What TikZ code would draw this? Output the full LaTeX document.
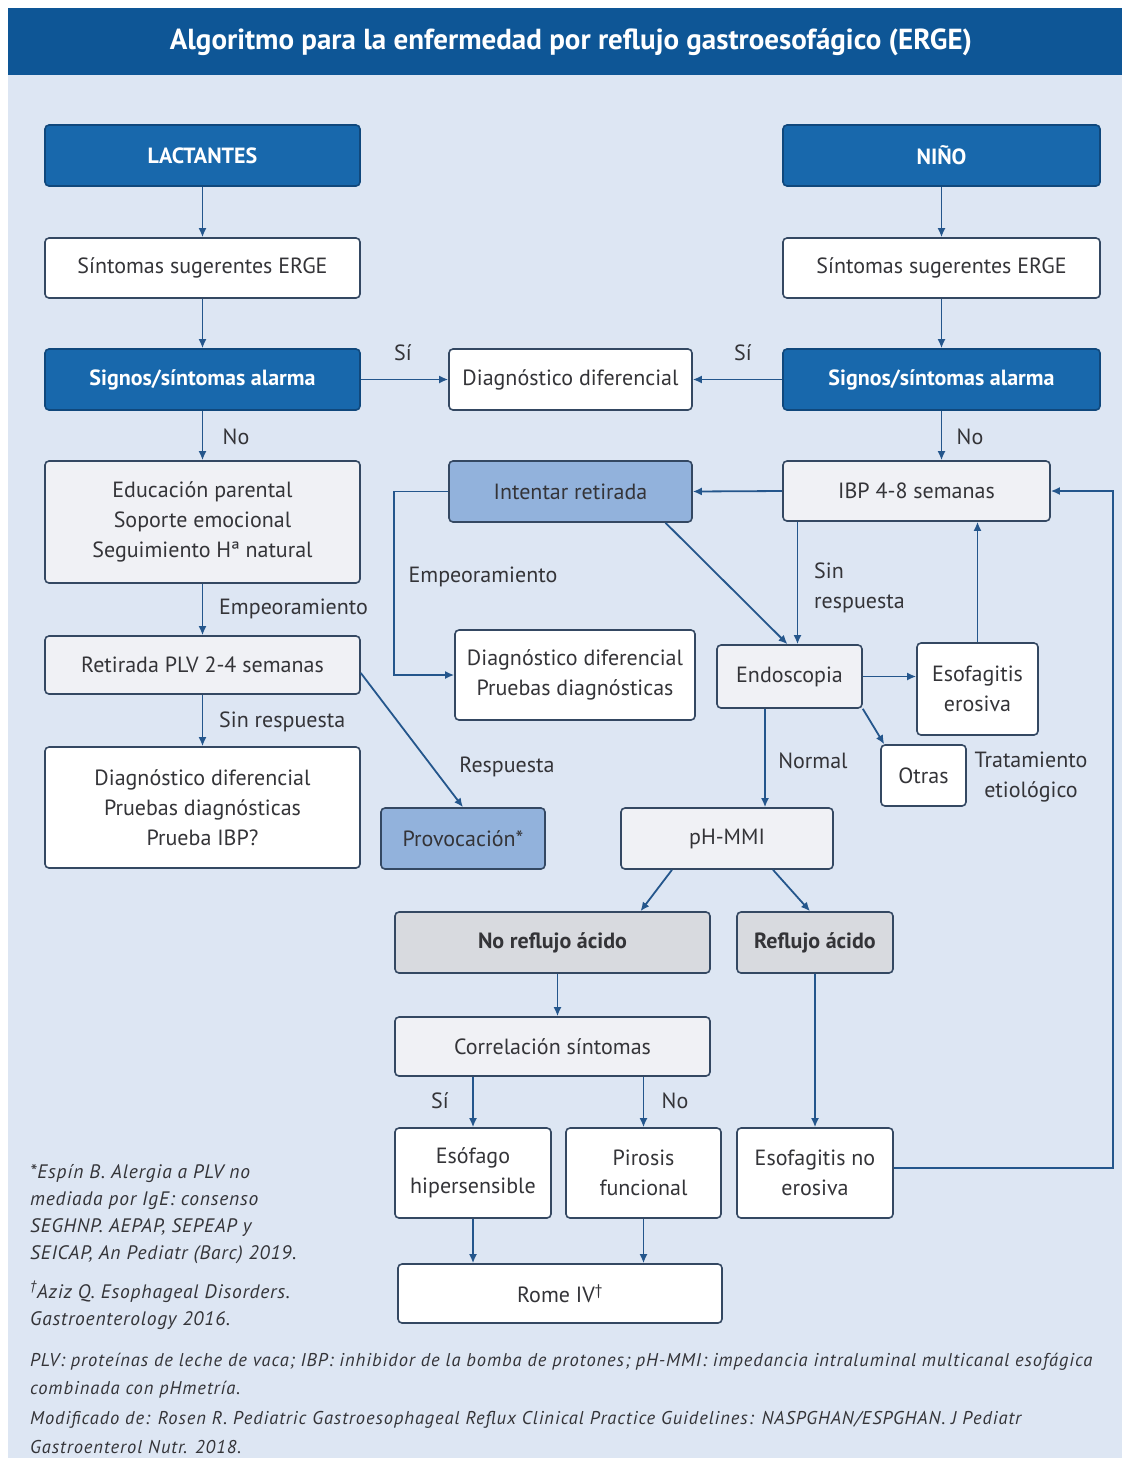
\documentclass[tikz,border=0pt]{standalone}
\usepackage{fontspec}
\setmainfont{PT Sans}
\usetikzlibrary{arrows.meta}
\definecolor{titlebg}{RGB}{14,86,150}
\definecolor{bg}{RGB}{221,230,243}
\definecolor{darkbox}{RGB}{24,104,172}
\definecolor{darkline}{RGB}{16,72,124}
\definecolor{medbox}{RGB}{146,178,220}
\definecolor{lightbox}{RGB}{240,241,245}
\definecolor{graybox}{RGB}{216,218,223}
\definecolor{boxline}{RGB}{52,72,98}
\definecolor{arrc}{RGB}{36,86,140}
\definecolor{txt}{RGB}{52,52,56}
\begin{document}
\begin{tikzpicture}[x=1pt,y=-1pt,
  box/.style={draw=boxline, line width=1.6pt, rounded corners=4pt, align=center,
    inner sep=2pt, text=txt, font=\fontsize{22}{30}\selectfont},
  wbox/.style={box, fill=white},
  lbox/.style={box, fill=lightbox},
  mbox/.style={box, fill=medbox},
  gbox/.style={box, fill=graybox, font=\fontsize{22}{30}\selectfont\bfseries},
  dbox/.style={box, fill=darkbox, draw=darkline, text=white, font=\fontsize{22}{30}\selectfont\bfseries},
  arr/.style={draw=arrc, line width=1.8pt, -{Latex[length=9pt,width=8pt]}},
  lbl/.style={text=txt, inner sep=0pt, font=\fontsize{22}{30}\selectfont},
  foot/.style={text=txt, inner sep=0pt, anchor=west, font=\fontsize{18.5}{27}\selectfont\itshape\addfontfeatures{LetterSpace=5}},
  footl/.style={text=txt, inner sep=0pt, align=left, anchor=north west, font=\fontsize{19.5}{27}\selectfont\itshape\addfontfeatures{LetterSpace=4}}
]
\useasboundingbox (0,0) rectangle (1130,1460);
\fill[bg] (8,75) rectangle (1122,1458);
\fill[titlebg] (8,8) rectangle (1122,75);
\node[text=white, font=\fontsize{29}{34}\selectfont\bfseries] (title) at (571,42) {Algoritmo para la enfermedad por reflujo gastroesofágico (ERGE)};

% nodes
\node[dbox, minimum width=315pt, minimum height=61pt] (lact) at (202.5,155.5) {LACTANTES};
\node[dbox, minimum width=317pt, minimum height=61pt] (nino) at (941.5,155.5) {NIÑO};
\node[wbox, minimum width=315pt, minimum height=60pt] (sintL) at (202.5,268) {Síntomas sugerentes ERGE};
\node[wbox, minimum width=317pt, minimum height=60pt] (sintR) at (941.5,268) {Síntomas sugerentes ERGE};
\node[dbox, minimum width=315pt, minimum height=61pt] (alarmL) at (202.5,379.5) {Signos/síntomas alarma};
\node[dbox, minimum width=317pt, minimum height=61pt] (alarmR) at (941.5,379.5) {Signos/síntomas alarma};
\node[wbox, minimum width=243pt, minimum height=61pt] (ddx) at (570.5,379.5) {Diagnóstico diferencial};
\node[lbox, minimum width=315pt, minimum height=122pt] (edu) at (202.5,522) {Educación parental\\Soporte emocional\\Seguimiento Hª natural};
\node[lbox, minimum width=315pt, minimum height=58pt] (plv) at (202.5,665) {Retirada PLV 2-4 semanas};
\node[wbox, minimum width=315pt, minimum height=121pt] (ddxL) at (202.5,807.5) {Diagnóstico diferencial\\Pruebas diagnósticas\\Prueba IBP?};
\node[mbox, minimum width=164pt, minimum height=61pt] (prov) at (463,838.5) {Provocación*};
\node[mbox, minimum width=243pt, minimum height=61pt] (intent) at (570.5,491.5) {Intentar retirada};
\node[lbox, minimum width=267pt, minimum height=60pt] (ibp) at (916.5,491) {IBP 4-8 semanas};
\node[wbox, minimum width=240pt, minimum height=90pt] (ddxC) at (575,675) {Diagnóstico diferencial\\Pruebas diagnósticas};
\node[lbox, minimum width=145pt, minimum height=63pt] (endo) at (789.5,676.5) {Endoscopia};
\node[wbox, minimum width=121pt, minimum height=92pt] (esoE) at (977.5,689) {Esofagitis\\erosiva};
\node[wbox, minimum width=85pt, minimum height=61pt] (otras) at (923.5,775.5) {Otras};
\node[lbox, minimum width=212pt, minimum height=61pt] (ph) at (727,838.5) {pH-MMI};
\node[gbox, minimum width=315pt, minimum height=61pt] (noref) at (552.5,942.5) {No reflujo ácido};
\node[gbox, minimum width=156pt, minimum height=61pt] (ref) at (815,942.5) {Reflujo ácido};
\node[lbox, minimum width=315pt, minimum height=59pt] (corr) at (552.5,1046.5) {Correlación síntomas};
\node[wbox, minimum width=156pt, minimum height=90pt] (esoH) at (473,1173) {Esófago\\hipersensible};
\node[wbox, minimum width=155pt, minimum height=90pt] (piro) at (643.5,1173) {Pirosis\\funcional};
\node[wbox, minimum width=156pt, minimum height=90pt] (esoNE) at (815,1173) {Esofagitis no\\erosiva};
\node[wbox, minimum width=324pt, minimum height=59pt] (rome) at (560,1293.5) {Rome IV\textsuperscript{†}};

% labels
\node[lbl] (siL) at (403,353) {Sí};
\node[lbl] (siR) at (743,353) {Sí};
\node[lbl] (noL) at (236,437) {No};
\node[lbl] (noR) at (970,437) {No};
\node[lbl, anchor=west] (empL) at (219,609) {Empeoramiento};
\node[lbl, anchor=west] (sinL) at (219,722) {Sin respuesta};
\node[lbl] (resp) at (507,767) {Respuesta};
\node[lbl] (empC) at (483,577) {Empeoramiento};
\node[lbl, anchor=west, align=left] (sinR) at (814,588) {Sin\\respuesta};
\node[lbl] (normal) at (813,761) {Normal};
\node[lbl, align=center] (trat) at (1031,777) {Tratamiento\\etiológico};
\node[lbl] (siC) at (440,1101) {Sí};
\node[lbl] (noC) at (675,1101) {No};

% connectors
\draw[arr] (lact) -- (sintL);
\draw[arr] (sintL) -- (alarmL);
\draw[arr] (nino) -- (sintR);
\draw[arr] (sintR) -- (alarmR);
\draw[arr] (alarmL.east) -- (ddx.west);
\draw[arr] (alarmR.west) -- (ddx.east);
\draw[arr] (alarmL) -- (edu);
\draw[arr] (alarmR.south) -- (alarmR.south |- ibp.north);
\draw[arr] (edu) -- (plv);
\draw[arr] (plv) -- (ddxL);
\draw[arr] ([yshift=-8pt]plv.east) -- (prov.north);
\draw[arr] (ibp.west) -- (intent.east);
\draw[arr] (intent.west) -- ++(-54,0) |- (ddxC.west);
\draw[arr] ([xshift=95pt]intent.south) -- ([xshift=-2pt]endo.north);
\draw[arr] ([xshift=-119pt]ibp.south) -- ([xshift=8pt]endo.north);
\draw[arr] (endo.east) -- (endo.east -| esoE.west);
\draw[arr] (esoE.north) -- (esoE.north |- ibp.south);
\draw[arr] (endo.south east) -- ([xshift=4pt]otras.north west);
\draw[arr] ([xshift=-24.5pt]endo.south) -- ([xshift=38pt]ph.north);
\draw[arr] ([xshift=-55pt]ph.south) -- ([xshift=88pt]noref.north);
\draw[arr] ([xshift=46pt]ph.south) -- ([xshift=-5pt]ref.north);
\draw[arr] ([xshift=5pt]noref.south) -- ([xshift=5pt]corr.north);
\draw[arr] (corr.south -| esoH.north) -- (esoH.north);
\draw[arr] (corr.south -| piro.north) -- (piro.north);
\draw[arr] (ref) -- (esoNE);
\draw[arr] (esoH.south) -- (esoH.south |- rome.north);
\draw[arr] (piro.south) -- (piro.south |- rome.north);
\draw[arr] ([yshift=5pt]esoNE.east) -- ++(219,0) |- (ibp.east);

% footnotes
\node[footl] (fn1) at (30,1164) {*Espín B. Alergia a PLV no\\mediada por IgE: consenso\\SEGHNP. AEPAP, SEPEAP y\\SEICAP, An Pediatr (Barc) 2019.};
\node[footl] (fn2) at (30,1281) {\textsuperscript{†}Aziz Q. Esophageal Disorders.\\Gastroenterology 2016.};
\node[foot] (ab1) at (30,1362) {PLV: proteínas de leche de vaca; IBP: inhibidor de la bomba de protones; pH-MMI: impedancia intraluminal multicanal esofágica};
\node[foot] (ab2) at (30,1390) {combinada con pHmetría.};
\node[foot] (ref1) at (30,1420) {Modificado de: Rosen R. Pediatric Gastroesophageal Reflux Clinical Practice Guidelines: NASPGHAN/ESPGHAN. J Pediatr};
\node[foot] (ref2) at (30,1447) {Gastroenterol Nutr. 2018.};
\end{tikzpicture}
\end{document}
